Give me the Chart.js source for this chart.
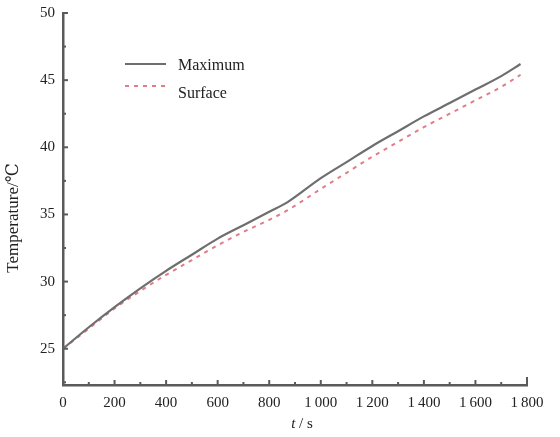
<!DOCTYPE html>
<html>
<head>
<meta charset="utf-8">
<script src="https://cdn.jsdelivr.net/npm/chart.js@4/dist/chart.umd.min.js"></script>
<style>
  html, body { margin: 0; padding: 0; background: #fff; }
  canvas { display: block; }
</style>
</head>
<body>
<canvas id="tempChart" width="560" height="437"></canvas>
<script>
// time axis (s) and temperatures (deg C)
var timeSec = [0, 100, 200, 300, 400, 500, 600, 700, 800, 870, 1000, 1100, 1200, 1300, 1400, 1500, 1600, 1700, 1775];
var maxTemp = [25.0, 26.6, 28.1, 29.5, 30.8, 32.0, 33.2, 34.2, 35.2, 35.9, 37.7, 38.9, 40.1, 41.2, 42.3, 43.3, 44.3, 45.3, 46.2];
var surfTemp = [25.0, 26.5, 28.0, 29.3, 30.5, 31.6, 32.7, 33.7, 34.6, 35.3, 36.9, 38.1, 39.3, 40.4, 41.5, 42.5, 43.5, 44.5, 45.4];
var seriesLabels = ["Maximum", "Surface"];
var xTicks = [0, 200, 400, 600, 800, 1000, 1200, 1400, 1600, 1800];
var yTicks = [25, 30, 35, 40, 45, 50];

var SERIF = "'Liberation Serif', 'DejaVu Serif', serif";
var AXIS_COLOR = "#5a5a5a";
var TEXT_COLOR = "#222";

function pairs(xs, ys) {
    var out = [];
    for (var i = 0; i < xs.length; i++) out.push({ x: xs[i], y: ys[i] });
    return out;
}

// ticks point into the plot, plus minor ticks between the labelled ones
const inwardTicks = {
    id: 'inwardTicks',
    afterDatasetsDraw(chart) {
        const ctx = chart.ctx;
        const xs = chart.scales.x;
        const ys = chart.scales.y;
        const area = chart.chartArea;
        ctx.save();
        ctx.strokeStyle = AXIS_COLOR;
        ctx.lineWidth = 2;
        for (let v = 100; v <= 1800; v += 100) {
            const px = xs.getPixelForValue(v);
            const len = (v == 1800) ? 8 : (v % 200 == 0 ? 5 : 3);
            ctx.beginPath();
            ctx.moveTo(px, area.bottom);
            ctx.lineTo(px, area.bottom - len);
            ctx.stroke();
        }
        for (let v = 22.5; v <= 50; v += 2.5) {
            const py = ys.getPixelForValue(v);
            const len = (v % 5 == 0) ? 5 : 3;
            ctx.beginPath();
            ctx.moveTo(area.left, py);
            ctx.lineTo(area.left + len, py);
            ctx.stroke();
        }
        ctx.restore();
    }
};

// axis titles and the legend box inside the plot
const annotations = {
    id: 'annotations',
    afterDraw(chart) {
        const ctx = chart.ctx;
        ctx.save();
        ctx.fillStyle = TEXT_COLOR;

        // x title: italic t, upright "/ s"
        ctx.textBaseline = 'middle';
        ctx.textAlign = 'left';
        ctx.font = "italic 15px " + SERIF;
        var wT = ctx.measureText("t").width;
        ctx.font = "15px " + SERIF;
        var rest = " / s";
        var wR = ctx.measureText(rest).width;
        var x0 = 302 - (wT + wR) / 2;
        ctx.font = "italic 15px " + SERIF;
        ctx.fillText("t", x0, 424);
        ctx.font = "15px " + SERIF;
        ctx.fillText(rest, x0 + wT, 424);

        // y title
        ctx.save();
        ctx.translate(14, 218);
        ctx.rotate(-Math.PI / 2);
        ctx.textAlign = 'center';
        ctx.font = "17px " + SERIF;
        ctx.fillText("Temperature/\u2103", 0, 0);
        ctx.restore();

        // legend
        const sets = chart.data.datasets;
        const rows = [64, 86];
        const textRows = [66, 94];
        for (let i = 0; i < sets.length; i++) {
            ctx.save();
            ctx.strokeStyle = sets[i].borderColor;
            ctx.lineWidth = sets[i].borderWidth;
            ctx.setLineDash(sets[i].borderDash || []);
            ctx.beginPath();
            ctx.moveTo(125, rows[i]);
            ctx.lineTo(166, rows[i]);
            ctx.stroke();
            ctx.restore();
            ctx.font = "16px " + SERIF;
            ctx.textAlign = 'left';
            ctx.fillText(sets[i].label, 178, textRows[i]);
        }
        ctx.restore();
    }
};

const config = {
    type: 'line',
    data: {
        datasets: [
            {
                label: seriesLabels[0],
                data: pairs(timeSec, maxTemp),
                borderColor: '#6e6e6e',
                borderWidth: 2.2,
                pointRadius: 0,
                cubicInterpolationMode: 'monotone'
            },
            {
                label: seriesLabels[1],
                data: pairs(timeSec, surfTemp),
                borderColor: '#e27c86',
                borderWidth: 2,
                borderDash: [4, 5],
                pointRadius: 0,
                cubicInterpolationMode: 'monotone'
            }
        ]
    },
    options: {
        responsive: false,
        animation: false,
        layout: { padding: { top: 13, right: 33, left: 0, bottom: 0 } },
        plugins: {
            legend: { display: false },
            tooltip: { enabled: false }
        },
        scales: {
            x: {
                type: 'linear',
                min: 0,
                max: 1800,
                afterBuildTicks: function (scale) {
                    scale.ticks = xTicks.map(function (v) { return { value: v }; });
                },
                afterFit: function (scale) { scale.height = 52; },
                grid: { display: true, drawOnChartArea: false, drawTicks: false },
                border: { display: true, color: AXIS_COLOR, width: 2.5 },
                ticks: {
                    padding: 9,
                    color: TEXT_COLOR,
                    maxRotation: 0,
                    autoSkip: false,
                    font: { family: SERIF, size: 15 },
                    callback: function (v) {
                        return v >= 1000 ? Math.floor(v / 1000) + "\u2009" + String(v % 1000).padStart(3, "0") : String(v);
                    }
                }
            },
            y: {
                min: 22.3,
                max: 50,
                afterBuildTicks: function (scale) {
                    scale.ticks = yTicks.map(function (v) { return { value: v }; });
                },
                afterFit: function (scale) {
                    scale.width = 63;
                    scale.paddingTop = 0;
                    scale.paddingBottom = 0;
                },
                grid: { display: true, drawOnChartArea: false, drawTicks: false },
                border: { display: true, color: AXIS_COLOR, width: 2.5 },
                ticks: {
                    padding: 8,
                    color: TEXT_COLOR,
                    autoSkip: false,
                    font: { family: SERIF, size: 15 }
                }
            }
        }
    },
    plugins: [inwardTicks, annotations]
};

window.addEventListener('DOMContentLoaded', function () {
    var ctx = document.getElementById("tempChart");
    new Chart(ctx, config);
});
</script>
</body>
</html>
